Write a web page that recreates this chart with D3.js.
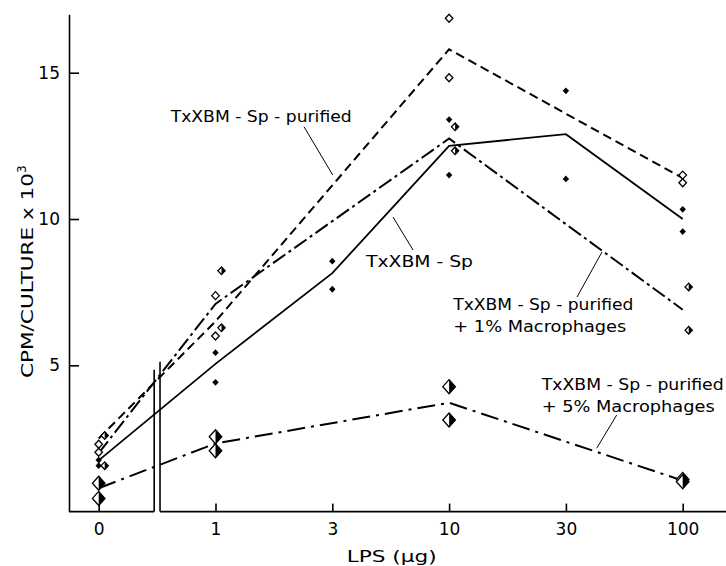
<!DOCTYPE html>
<html>
<head>
<meta charset="utf-8">
<script src="https://cdn.jsdelivr.net/npm/d3@7"></script>
<style>
  body { margin: 0; background: #fff; }
  svg { display: block; font-family: "DejaVu Sans", sans-serif; }
  .axis text { font-family: "DejaVu Sans", sans-serif; font-size: 17px; fill: #000; }
  .axis line, .axis path { stroke: #000; stroke-width: 1.6; }
</style>
</head>
<body>
<svg id="vis"></svg>
<script>
// LPS doses (categorical, evenly spaced on the original axis)
const doses = ["0", "1", "3", "10", "30", "100"];
const yTicks = [5, 10, 15];

// replicate cultures, CPM/culture x 10^3 (empty = not tested)
const spPoints   = [[1.76, 1.57], [5.43, 4.42], [8.56, 7.6], [13.4, 11.5], [14.38, 11.37], [10.33, 9.57]];
const purPoints  = [[2.3, 2.03], [7.38, 6.0], [], [16.86, 14.83], [], [11.5, 11.24]];
const mac1Points = [[2.6, 1.57], [8.23, 6.28], [], [13.15, 12.33], [], [7.68, 6.2]];
const mac5Points = [[0.97, 0.45], [2.56, 2.08], [], [4.27, 3.13], [], [1.1, 1.02]];

// mean lines
const spLine   = [1.75, 5.05, 8.15, 12.5, 12.9, 10.0];
const purLine  = [2.5, 6.5, null, 15.8, null, 11.4];
const mac1Line = [2.0, 7.1, null, 12.75, null, 6.9];
const mac5Line = [0.8, 2.33, null, 3.72, null, 1.06];

let config = { svg: {}, plot: {} };
config.svg.width = 726;
config.svg.height = 566;
config.plot.left = 69;
config.plot.right = 726;
config.plot.top = 14.2;
config.plot.bottom = 511.6;

const svg = d3.select("svg#vis")
  .attr("width", config.svg.width)
  .attr("height", config.svg.height);

let scale = {};
scale.x = d3.scalePoint().domain(doses).range([98.7, 682.7]);
scale.y = d3.scaleLinear().domain([0, 17]).range([config.plot.bottom, config.plot.top]);

// y axis
let gy = svg.append("g")
  .attr("class", "axis")
  .attr("transform", translate(config.plot.left, 0))
  .call(d3.axisLeft(scale.y).tickValues(yTicks).tickSize(-10).tickSizeOuter(0).tickPadding(9));
gy.select(".domain").attr("stroke-width", 2);

// x axis (broken between 0 and 1)
let gx = svg.append("g")
  .attr("class", "axis")
  .attr("transform", translate(0, config.plot.bottom))
  .call(d3.axisBottom(scale.x).tickSize(-8).tickSizeOuter(0).tickPadding(11.5));
gx.select(".domain").remove();

let step = scale.x.step();
let breakL = scale.x("0") + step * 0.475;
let breakR = scale.x("0") + step * 0.525;

gx.append("line").attr("x1", config.plot.left).attr("x2", breakL).attr("y1", 0).attr("y2", 0);
gx.append("line").attr("x1", breakR).attr("x2", config.plot.right).attr("y1", 0).attr("y2", 0);
gx.append("line").attr("x1", breakL).attr("x2", breakL)
  .attr("y1", 0).attr("y2", scale.y(4.85) - config.plot.bottom);
gx.append("line").attr("x1", breakR).attr("x2", breakR)
  .attr("y1", 0).attr("y2", scale.y(5.12) - config.plot.bottom);

// lines
function drawLine(values, dash, width) {
  let pts = values.map((v, i) => [doses[i], v]).filter(d => d[1] != null);
  let line = d3.line().x(d => scale.x(d[0])).y(d => scale.y(d[1]));
  svg.append("path")
    .attr("d", line(pts))
    .attr("fill", "none")
    .attr("stroke", "#000")
    .attr("stroke-width", width)
    .attr("stroke-dasharray", dash);
}

drawLine(spLine, null, 1.8);
drawLine(purLine, "9,5", 2);
drawLine(mac1Line, "15,4,3,4", 2);
drawLine(mac5Line, "18,6,3,6", 2);

// markers
function diamond(cx, cy, rx, ry) {
  return "M" + cx + "," + (cy - ry) + "L" + (cx + rx) + "," + cy + "L" + cx + "," + (cy + ry) +
    "L" + (cx - rx) + "," + cy + "Z";
}
function rightHalf(cx, cy, rx, ry) {
  return "M" + cx + "," + (cy - ry) + "L" + (cx + rx) + "," + cy + "L" + cx + "," + (cy + ry) + "Z";
}

function drawPoints(points, kind, dx, rx, ry) {
  let flat = [];
  points.forEach((reps, i) => reps.forEach(v => flat.push({ dose: doses[i], v: v })));
  let g = svg.append("g");
  flat.forEach(d => {
    let cx = scale.x(d.dose) + dx;
    let cy = scale.y(d.v);
    if (kind === "filled") {
      g.append("path").attr("d", diamond(cx, cy, rx, ry)).attr("fill", "#000");
    } else {
      g.append("path").attr("d", diamond(cx, cy, rx, ry))
        .attr("fill", "#fff").attr("stroke", "#000").attr("stroke-width", 1.3);
      if (kind === "half") {
        g.append("path").attr("d", rightHalf(cx, cy, rx, ry)).attr("fill", "#000");
      }
    }
  });
}

drawPoints(spPoints, "filled", 0, 3.2, 3.4);
drawPoints(purPoints, "open", 0, 3.8, 4);
drawPoints(mac1Points, "half", 6, 3.6, 3.8);
drawPoints(mac5Points, "half", 0, 6.3, 7);

// labels with leader lines
function label(lines, x, y, lengths) {
  lines.forEach((t, i) => {
    svg.append("text")
      .text(t)
      .attr("x", x)
      .attr("y", y + i * 22.5)
      .attr("font-size", "16px")
      .attr("textLength", lengths[i])
      .attr("lengthAdjust", "spacingAndGlyphs");
  });
}
function leader(x1, y1, x2, y2) {
  svg.append("line")
    .attr("x1", x1).attr("y1", y1).attr("x2", x2).attr("y2", y2)
    .attr("stroke", "#000").attr("stroke-width", 1);
}

label(["TxXBM - Sp - purified"], 170.7, 121.7, [181]);
leader(304, 126.7, 332.7, 175);

label(["TxXBM - Sp"], 366, 267, [107]);
leader(393, 217, 413, 250);

label(["TxXBM - Sp - purified", "+ 1% Macrophages"], 453.3, 309.5, [180, 173]);
leader(577, 297, 602, 252);

label(["TxXBM - Sp - purified", "+ 5% Macrophages"], 541.7, 389.5, [182, 173]);
leader(616.7, 415, 596.7, 448.3);

// axis titles
svg.append("text")
  .text("LPS (\u03bcg)")
  .attr("x", 346.7)
  .attr("y", 562)
  .attr("font-size", "16px")
  .attr("textLength", 90)
  .attr("lengthAdjust", "spacingAndGlyphs");

let yt = svg.append("text")
  .attr("transform", translate(32.5, 378) + " rotate(-90)")
  .attr("font-size", "16px");
yt.append("tspan").text("CPM/CULTURE x 10").attr("textLength", 205).attr("lengthAdjust", "spacingAndGlyphs");
yt.append("tspan").text("3").attr("dy", -7).attr("font-size", "12px");

function translate(x, y) {
  return "translate(" + x + "," + y + ")";
}
</script>
</body>
</html>
